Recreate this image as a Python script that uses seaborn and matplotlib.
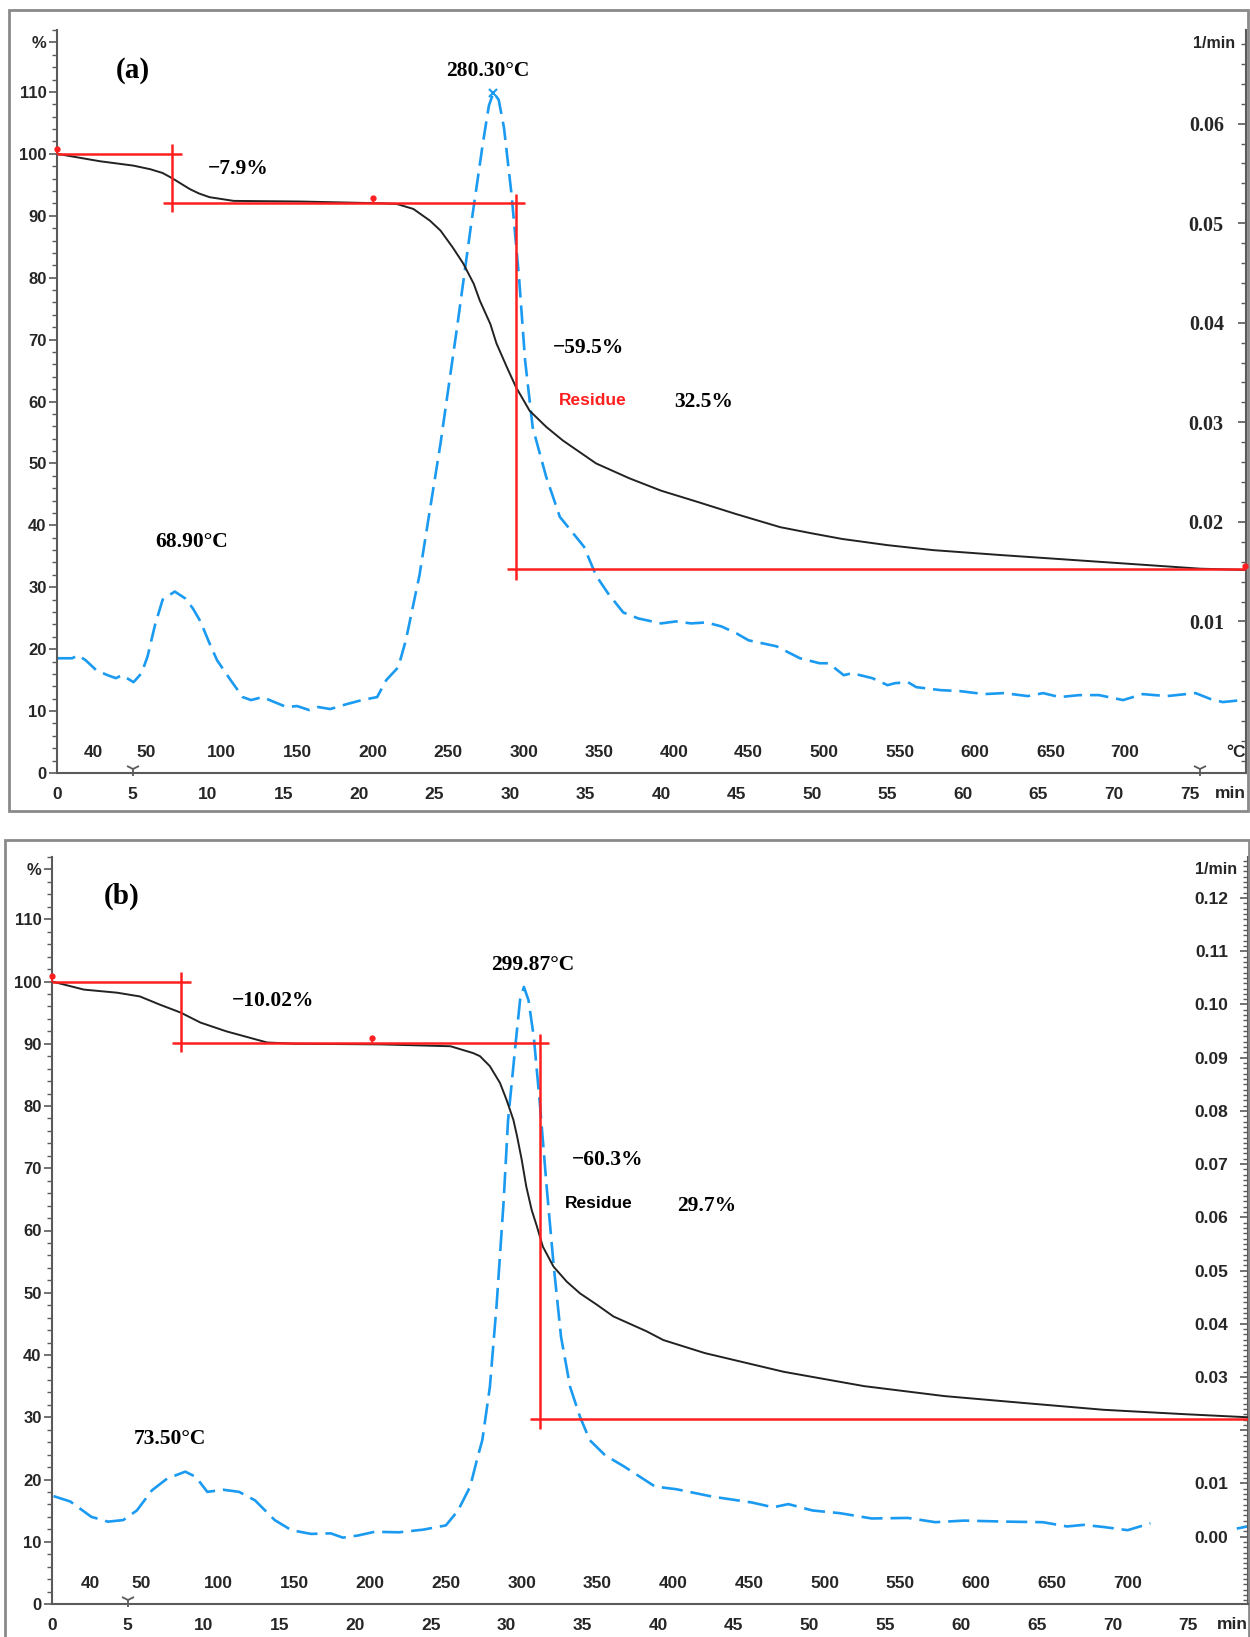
import matplotlib
matplotlib.use('Agg')
import matplotlib.pyplot as plt
from matplotlib.patches import Rectangle
from matplotlib.ticker import MultipleLocator
import numpy as np
import seaborn as sns

sns.set_style('white')
plt.rcParams['font.family'] = ['Liberation Sans', 'DejaVu Sans']
plt.rcParams['font.weight'] = 'bold'

SERIF = ['Liberation Serif', 'DejaVu Serif']
BLUE = '#1a9af0'
RED = '#ff1f1f'
AXC = '#5a5a5a'
W, H = 1250, 1637

# === data: panel (a) ===
ta_tg = [0.0, 2.85, 5.05, 6.2, 7.0, 7.6, 8.8, 9.4, 10.1, 11.7, 16.1, 21.6, 22.5, 23.6, 24.7, 25.4,
         26.2, 26.9, 27.6, 28.0, 28.7, 29.1, 29.8, 30.4, 31.3, 32.4, 33.5, 35.7, 37.9, 40.0, 42.4,
         45.0, 47.9, 50.0, 52.0, 55.0, 58.0, 62.5, 69.1, 75.7, 78.7]
tg_a = [100.0, 98.8, 98.1, 97.5, 96.9, 96.1, 94.3, 93.6, 93.0, 92.4, 92.3, 92.0, 91.9, 91.1, 89.2,
        87.6, 84.9, 82.3, 79.0, 76.3, 72.5, 69.4, 65.5, 62.3, 58.5, 55.9, 53.7, 50.0, 47.6, 45.6,
        43.8, 41.8, 39.7, 38.7, 37.8, 36.8, 36.0, 35.2, 34.1, 33.0, 32.8]

ta_dtg = [0.0, 1.0, 1.4, 1.9, 2.6, 3.35, 3.9, 4.3, 5.07, 5.6, 6.0, 6.5, 7.0, 7.8, 8.5, 9.0, 9.5,
          10.1, 10.6, 11.5, 12.3, 12.85, 13.6, 14.4, 15.2, 15.9, 16.7, 17.3, 18.1, 19.2, 20.2, 21.2,
          21.8, 22.6, 23.1, 24.0, 25.4, 26.5, 27.4, 28.2, 28.6, 28.9, 29.25, 29.6, 30.1, 30.6, 31.0,
          31.5, 32.4, 33.3, 34.9, 35.7, 36.5, 37.5, 38.5, 40.0, 41.0, 42.0, 43.0, 44.0, 45.0, 45.8,
          47.65, 49.2, 50.5, 51.1, 52.1, 52.65, 54.0, 55.0, 55.5, 56.35, 56.9, 58.5, 59.8, 61.4, 62.7,
          64.3, 65.3, 66.4, 67.7, 69.0, 70.6, 71.9, 73.5, 75.4, 76.4, 77.2, 78.5]
dtg_a = [0.0063, 0.0063, 0.0066, 0.0061, 0.0051, 0.0046, 0.0043, 0.0046, 0.0039, 0.0048, 0.0065,
         0.0097, 0.0122, 0.0130, 0.0123, 0.0113, 0.0100, 0.0078, 0.0061, 0.0041, 0.0024, 0.0021,
         0.0024, 0.0019, 0.0014, 0.0015, 0.0011, 0.0014, 0.0012, 0.0017, 0.0021, 0.0024, 0.0041,
         0.0054, 0.0081, 0.0146, 0.0279, 0.0396, 0.0496, 0.0580, 0.0618, 0.0631, 0.0624, 0.0596,
         0.0529, 0.0445, 0.0362, 0.0295, 0.0245, 0.0205, 0.0175, 0.0146, 0.0128, 0.0109, 0.0103,
         0.0098, 0.0100, 0.0098, 0.0099, 0.0095, 0.0088, 0.0081, 0.0075, 0.0063, 0.0058, 0.0058,
         0.0046, 0.0048, 0.0043, 0.0036, 0.0038, 0.0039, 0.0034, 0.0031, 0.0030, 0.0027, 0.0028,
         0.0025, 0.0028, 0.0024, 0.0026, 0.0026, 0.0021, 0.0027, 0.0025, 0.0028, 0.0022, 0.0019, 0.0021]

# red step construction lines (level, from, to) / (time, from, to)
red_h_a = [(100.0, 0.0, 8.3), (92.1, 7.0, 31.0), (32.9, 29.8, 78.74)]
red_v_a = [(7.6, 90.6, 101.6), (30.4, 31.2, 93.5)]
pins_a = [(0.0, 100.0, 100.7), (20.9, 92.1, 92.9), (78.7, 32.9, 33.4)]

temp_lab_a = ['40', '50', '100', '150', '200', '250', '300', '350', '400', '450', '500', '550',
              '600', '650', '700']
temp_pos_a = [2.4, 5.9, 10.9, 15.9, 20.9, 25.9, 30.9, 35.9, 40.9, 45.8, 50.8, 55.8, 60.8, 65.8, 70.7]

notes_a = [('(a)', 5.0, 113.4, 21, 'k', SERIF), ('−7.9%', 12.0, 97.6, 15.5, 'k', SERIF),
           ('280.30°C', 28.5, 113.3, 15.5, 'k', SERIF), ('68.90°C', 8.9, 37.3, 15.5, 'k', SERIF),
           ('−59.5%', 35.2, 68.7, 15.5, 'k', SERIF), ('Residue', 35.5, 60.2, 12.5, RED, None),
           ('32.5%', 42.8, 59.9, 15.5, 'k', SERIF)]

# === data: panel (b) ===
tb_tg = [0.0, 2.1, 4.3, 5.8, 7.1, 8.5, 9.8, 11.5, 13.3, 14.2, 16.0, 21.65, 26.3, 27.8, 28.25, 28.9,
         29.57, 30.0, 30.45, 30.7, 31.0, 31.3, 31.66, 32.0, 32.4, 33.1, 33.97, 34.85, 35.95, 37.05,
         39.25, 40.35, 43.1, 48.3, 53.6, 58.9, 64.1, 69.4, 74.7, 78.9]
tg_b = [100.0, 98.7, 98.2, 97.6, 96.3, 95.0, 93.4, 92.0, 90.8, 90.2, 90.0, 89.9, 89.6, 88.5, 88.0,
        86.4, 83.7, 81.0, 77.8, 75.1, 71.4, 67.1, 63.3, 60.7, 57.4, 54.2, 51.8, 49.9, 48.1, 46.2,
        43.8, 42.4, 40.3, 37.3, 35.0, 33.4, 32.3, 31.2, 30.5, 30.0]

tb_dtg1 = [0.1, 1.2, 2.6, 3.7, 4.7, 5.6, 6.6, 7.6, 8.8, 9.5, 10.25, 11.3, 12.35, 13.4, 14.7, 15.8,
           17.1, 18.4, 19.2, 20.2, 21.3, 22.9, 24.5, 26.0, 26.8, 27.6, 28.1, 28.4, 28.9, 29.35, 29.8,
           30.1, 30.6, 30.9, 31.15, 31.45, 31.8, 32.2, 32.65, 33.1, 33.6, 34.2, 34.85, 35.5, 36.5,
           37.8, 39.8, 41.2, 43.6, 46.2, 47.6, 48.6, 50.2, 52.0, 54.1, 56.5, 58.3, 60.2, 63.1, 65.4,
           67.0, 68.1, 69.4, 71.0, 72.5]
dtg_b1 = [0.0076, 0.0066, 0.0037, 0.0028, 0.0031, 0.0049, 0.0087, 0.0109, 0.0122, 0.0112, 0.0084,
          0.0088, 0.0084, 0.0068, 0.0031, 0.0012, 0.0005, 0.0006, -0.0002, 0.0002, 0.0009, 0.0008,
          0.0013, 0.0021, 0.0049, 0.0094, 0.0150, 0.0181, 0.0281, 0.0437, 0.0626, 0.0782, 0.0927,
          0.1010, 0.1033, 0.1008, 0.0939, 0.0814, 0.0657, 0.0513, 0.0375, 0.0281, 0.0225, 0.0181,
          0.0153, 0.0131, 0.0094, 0.0089, 0.0075, 0.0064, 0.0055, 0.0061, 0.0049, 0.0044, 0.0034,
          0.0035, 0.0027, 0.0030, 0.0028, 0.0027, 0.0019, 0.0022, 0.0018, 0.0012, 0.0025]
tb_dtg2 = [78.2, 78.9]
dtg_b2 = [0.0015, 0.0019]

red_h_b = [(100.0, 0.0, 9.2), (90.1, 7.9, 32.8), (29.7, 31.55, 78.94)]
red_v_b = [(8.5, 88.6, 101.5), (32.2, 28.1, 91.5)]
pins_b = [(0.0, 100.0, 100.9), (21.1, 90.1, 90.9)]

temp_lab_b = temp_lab_a
temp_pos_b = [2.5, 5.9, 11.0, 16.0, 21.0, 26.0, 31.0, 36.0, 41.0, 46.0, 51.0, 56.0, 61.0, 66.0, 71.0]

notes_b = [('(b)', 4.6, 113.7, 21, 'k', SERIF), ('−10.02%', 14.6, 96.8, 15.5, 'k', SERIF),
           ('299.87°C', 31.7, 102.7, 15.5, 'k', SERIF), ('73.50°C', 7.8, 26.5, 15.5, 'k', SERIF),
           ('−60.3%', 36.7, 71.3, 15.5, 'k', SERIF), ('Residue', 36.1, 64.3, 12.5, 'k', None),
           ('29.7%', 43.2, 64.0, 15.5, 'k', SERIF)]

fig = plt.figure(figsize=(W / 100, H / 100), dpi=100)

# panel frames
fig.add_artist(Rectangle((9 / W, 1 - 811 / H), (1248 - 9) / W, (811 - 10) / H,
                         transform=fig.transFigure, fill=False, ec='#8a8a8a', lw=2))
fig.add_artist(Rectangle((5 / W, -0.02), (1249 - 5) / W, (H - 840) / H + 0.02,
                         transform=fig.transFigure, fill=False, ec='#8a8a8a', lw=2))


def draw_panel(rect, xmax, rlim, tg_t, tg_v, dtg_parts, red_h, red_v, pins, temp_lab, temp_pos,
               notes, rticks, rlabels, rminor, rfont, rsize, rpad, rmin_pos, deg_label, ymarks, dash):
    ax = fig.add_axes(rect)
    ax2 = ax.twinx()
    ax.set_zorder(ax2.get_zorder() + 1)
    ax.patch.set_visible(False)

    # DTG (dashed blue, right axis)
    for tt, rr in dtg_parts:
        sns.lineplot(x=tt, y=rr, ax=ax2, color=BLUE, linewidth=1.9, estimator=None)
        ax2.lines[-1].set_dashes(dash)
    # TG (solid black, left axis)
    sns.lineplot(x=tg_t, y=tg_v, ax=ax, color='#222222', linewidth=1.4, estimator=None)

    # construction lines
    for lev, a, b in red_h:
        ax.hlines(lev, a, b, color=RED, lw=1.8, zorder=5)
    for t, a, b in red_v:
        ax.vlines(t, a, b, color=RED, lw=1.8, zorder=5)
    for t, base, top in pins:
        ax.vlines(t, base, top, color=RED, lw=1.2, zorder=5, clip_on=False)
        ax.plot([t], [top], 'o', ms=3.5, color=RED, zorder=6, clip_on=False)

    ax.set_xlim(0, xmax)
    ax.set_ylim(0, 120)
    ax2.set_ylim(*rlim)

    # spines
    for s in ['top', 'right']:
        ax.spines[s].set_visible(False)
    for s in ['top', 'left', 'bottom']:
        ax2.spines[s].set_visible(False)
    for sp in [ax.spines['left'], ax.spines['bottom'], ax2.spines['right']]:
        sp.set_color(AXC)
        sp.set_linewidth(1.5)

    # left axis
    ax.set_yticks(list(range(0, 111, 10)) + [118])
    ax.set_yticklabels([str(v) for v in range(0, 111, 10)] + ['%'])
    ax.yaxis.set_minor_locator(MultipleLocator(2))
    ax.tick_params(axis='y', which='major', direction='out', length=6, width=1.2, color=AXC,
                   pad=1.5, labelsize=12)
    ax.tick_params(axis='y', which='minor', direction='out', length=3.5, width=1.0, color=AXC)

    # time axis
    ax.set_xticks(list(range(0, 76, 5)))
    ax.xaxis.set_minor_locator(MultipleLocator(1))
    ax.tick_params(axis='x', which='major', direction='inout', length=9, width=1.2, color=AXC,
                   pad=5.5, labelsize=12.5)
    ax.tick_params(axis='x', which='minor', direction='inout', length=5, width=1.0, color=AXC)
    ax.annotate('min', xy=(1, 0), xycoords='axes fraction', xytext=(0, -14.5),
                textcoords='offset points', ha='right', va='center', fontsize=12.5)
    for t in ymarks:
        ax.plot([t], [0.7], marker='1', ms=10, mew=1.3, color=AXC, clip_on=False, zorder=6)

    # temperature scale inside the plot
    for lab, t in zip(temp_lab, temp_pos):
        ax.text(t, 3.3, lab, ha='center', va='center', fontsize=12.5)
    if deg_label:
        ax.text(xmax, 3.3, deg_label, ha='right', va='center', fontsize=12.5)

    # right axis (labels drawn inside the frame)
    ax2.set_yticks(rticks)
    ax2.set_yticklabels(rlabels, family=rfont, fontsize=rsize, fontweight='bold')
    ax2.yaxis.set_minor_locator(MultipleLocator(rminor))
    ax2.tick_params(axis='y', which='major', direction='in', length=6, width=1.2, color=AXC,
                    pad=rpad)
    ax2.tick_params(axis='y', which='minor', direction='in', length=3.5, width=1.0, color=AXC)
    plt.setp(ax2.get_yticklabels(), ha='right')
    ax2.annotate('1/min', xy=(1, rmin_pos), xycoords=('axes fraction', 'data'), xytext=(-8, 0),
                 textcoords='offset points', ha='right', va='center', fontsize=11.5)
    ax2.set_xlabel('')
    ax2.set_ylabel('')
    ax.set_xlabel('')
    ax.set_ylabel('')

    # annotations
    for txt, t, v, fs, col, fam in notes:
        kw = {'family': fam} if fam else {}
        ax.text(t, v, txt, ha='center', va='center', fontsize=fs, color=col, fontweight='bold', **kw)
    return ax, ax2


# panel (a)
ax_a, ax2_a = draw_panel(
    [57 / W, 1 - 773 / H, 1189 / W, 743 / H], 78.74, (-0.005224, 0.069403),
    ta_tg, tg_a, [(ta_dtg, dtg_a)], red_h_a, red_v_a, pins_a, temp_lab_a, temp_pos_a, notes_a,
    [0.01, 0.02, 0.03, 0.04, 0.05, 0.06], ['0.01', '0.02', '0.03', '0.04', '0.05', '0.06'],
    0.002, SERIF, 14.5, -16, 0.068, '°C', [5, 75.7], (7, 3))
# peak marker on the main DTG peak
ipk = int(np.argmax(dtg_a))
ax2_a.plot([ta_dtg[ipk]], [dtg_a[ipk]], 'x', ms=6, mew=1.5, color=BLUE)

# panel (b)
rt_b = [0.00, 0.01, 0.02, 0.03, 0.04, 0.05, 0.06, 0.07, 0.08, 0.09, 0.10, 0.11, 0.12]
rl_b = ['0.00', '0.01', '', '0.03', '0.04', '0.05', '0.06', '0.07', '0.08', '0.09', '0.10',
        '0.11', '0.12']
draw_panel(
    [52 / W, 1 - 1604 / H, 1196 / W, 747 / H], 78.94, (-0.012674, 0.12772),
    tb_tg, tg_b, [(tb_dtg1, dtg_b1), (tb_dtg2, dtg_b2)], red_h_b, red_v_b, pins_b, temp_lab_b,
    temp_pos_b, notes_b, rt_b, rl_b, 0.001, ['Liberation Sans', 'DejaVu Sans'], 12.5, -14, 0.1253,
    None, [5], (8, 3))

plt.savefig('out.png', dpi=100)
